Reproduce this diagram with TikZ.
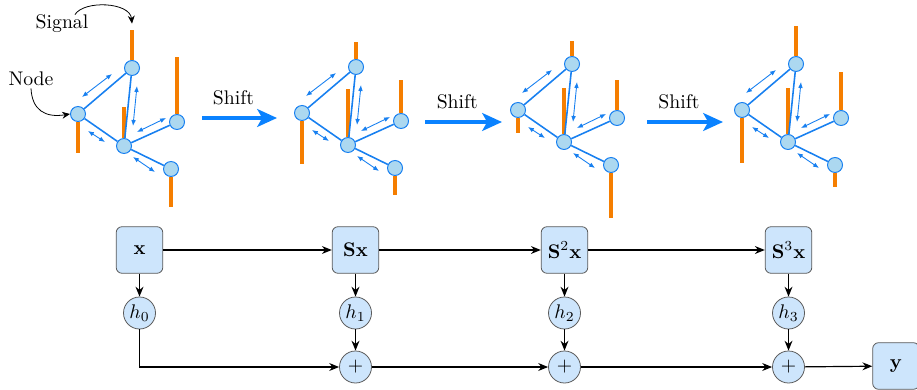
\documentclass[tikz,border=0pt]{standalone}
\usepackage{amsmath}
\usepackage{xcolor}
\usepackage{tikz}
\usetikzlibrary{arrows.meta}

\definecolor{gblue}{RGB}{24,128,240}
\definecolor{gfill}{RGB}{172,216,240}
\definecolor{sigorange}{RGB}{245,126,0}
\definecolor{shiftblue}{RGB}{10,130,255}
\definecolor{boxfill}{RGB}{205,229,252}
\definecolor{boxline}{RGB}{90,90,90}

% #1 name, #2 #3 shift, #4..#8 signal bars of a,b,c,d,e
\newcommand{\signalgraph}[8]{
	\begin{scope}[shift={(#2,#3)}]
		\node [gnode] (#1a) at (132,-68) {};
		\node [gnode] (#1b) at (78,-114) {};
		\node [gnode] (#1c) at (124,-146) {};
		\node [gnode] (#1d) at (177,-122) {};
		\node [gnode] (#1e) at (171,-169) {};
		
		\draw [sig] (#1a.north) -- ++(0,#4) coordinate (#1atop);
		\draw [sig] (#1b.south) -- ++(0,-#5);
		\draw [sig] (#1c.north) -- ++(0,#6);
		\draw [sig] (#1d.north) -- ++(0,#7);
		\draw [sig] (#1e.south) -- ++(0,-#8);
		
		\draw [gedge] (#1a) -- (#1b);
		\draw [gedge] (#1a) -- (#1c);
		\draw [gedge] (#1b) -- (#1c);
		\draw [gedge] (#1c) -- (#1d);
		\draw [gedge] (#1c) -- (#1e);
		
		\draw [flow] (112,-74) -- (82,-97);
		\draw [flow] (137,-86) -- (133,-126);
		\draw [flow] (88,-131) -- (105,-142);
		\draw [flow] (137,-132) -- (166,-118);
		\draw [flow] (133,-157) -- (155,-172);
	\end{scope}
}

\begin{document}
\begin{tikzpicture}[x=0.0178cm, y=0.0178cm,
	gnode/.style={circle, draw=gblue, fill=gfill, line width=0.5pt, minimum size=0.267cm, inner sep=0pt},
	sig/.style={sigorange, line width=2.4pt},
	gedge/.style={gblue, line width=0.8pt},
	flow/.style={gblue, line width=0.45pt, {Latex[length=3pt,width=2.4pt]}-{Latex[length=3pt,width=2.4pt]}},
	shiftarrow/.style={shiftblue, line width=2.2pt, -{Stealth[length=10pt,width=9pt,inset=2.5pt]}},
	box/.style={draw=boxline, fill=boxfill, rounded corners=3pt, minimum size=0.83cm, inner sep=0pt},
	filt/.style={circle, draw=boxline, fill=boxfill, minimum size=0.57cm, inner sep=0pt},
	conn/.style={line width=0.6pt, -{Stealth[length=5pt,width=4pt]}},
	lbl/.style={inner sep=1pt}]
				\useasboundingbox (0,0) rectangle (917,-389);
				
				\signalgraph{g1}{0}{0}{30.5}{31.5}{31.5}{57.5}{30.5}
				\signalgraph{g2}{224}{1}{17.5}{43.5}{48.5}{33.5}{19.5}
				\signalgraph{g3}{440}{4}{15.5}{15.5}{46.5}{30.5}{45.5}
				\signalgraph{g4}{664}{4}{30.5}{45.5}{46.5}{38.5}{14.5}
				
				\node [lbl] (sigtxt) at (62,-24) {Signal};
				\node [lbl] (nodetxt) at (31,-79) {Node};
				\draw [-{Stealth[length=4pt,width=3.5pt]}] ([xshift=-8pt,yshift=-1pt]sigtxt.north east) .. controls (84,0) and (130,-2) .. ([yshift=3pt]g1atop);
				\draw [-{Stealth[length=4pt,width=3.5pt]}] (nodetxt.south) .. controls (32,-110) and (45,-118) .. (g1b.west);
				
				\draw [shiftarrow] (202,-118) -- node [above=2pt, pos=0.42, text=black] (shift1) {Shift} (277,-118);
				\draw [shiftarrow] (425,-122) -- node [above=2pt, pos=0.42, text=black] (shift2) {Shift} (502,-122);
				\draw [shiftarrow] (647,-122) -- node [above=2pt, pos=0.42, text=black] (shift3) {Shift} (723,-122);
				
				\node [box] (x0) at (139.5,-250) {$\mathbf{x}$};
				\node [box] (x1) at (355.5,-250) {$\mathbf{Sx}$};
				\node [box] (x2) at (564.5,-250) {$\mathbf{S}^2\mathbf{x}$};
				\node [box] (x3) at (788.5,-250) {$\mathbf{S}^3\mathbf{x}$};
				
				\node [filt] (h0) at (139.5,-313) {$h_0$};
				\node [filt] (h1) at (355.5,-313) {$h_1$};
				\node [filt] (h2) at (564.5,-313) {$h_2$};
				\node [filt] (h3) at (788.5,-313) {$h_3$};
				
				\node [filt] (p1) at (355.5,-367) {$+$};
				\node [filt] (p2) at (564.5,-367) {$+$};
				\node [filt] (p3) at (788.5,-367) {$+$};
				
				\node [box] (y) at (896,-366) {$\mathbf{y}$};
				
				\draw [conn] (x0) -- (x1);
				\draw [conn] (x1) -- (x2);
				\draw [conn] (x2) -- (x3);
				\foreach \i in {0,...,3}
					\draw [conn] (x\i) -- (h\i);
				\draw [conn] (h0) |- (p1);
				\foreach \i in {1,2,3}
					\draw [conn] (h\i) -- (p\i);
				\draw [conn] (p1) -- (p2);
				\draw [conn] (p2) -- (p3);
				\draw [conn] (p3) -- (y);
\end{tikzpicture}
\end{document}
